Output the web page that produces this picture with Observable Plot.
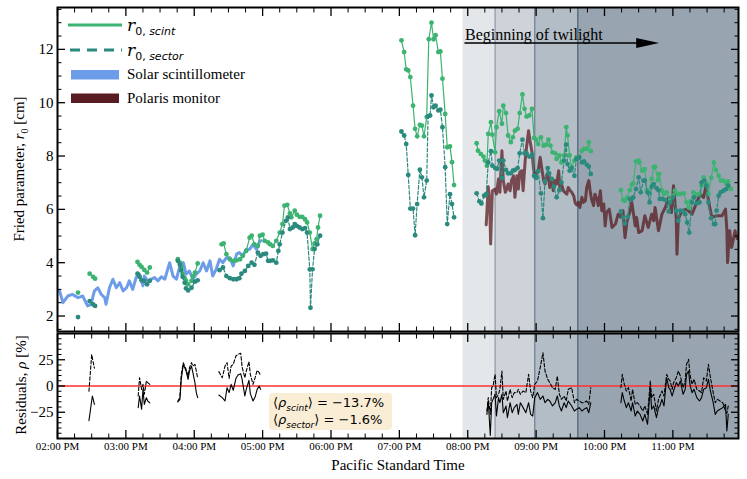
<!DOCTYPE html>
<html><head><meta charset="utf-8">
<script src="https://cdn.jsdelivr.net/npm/d3@7"></script>
<script src="https://cdn.jsdelivr.net/npm/@observablehq/plot@0.6"></script>
<style>
body{margin:0;background:#fff;}
#wrap{position:relative;width:747px;height:479px;overflow:hidden;font-family:"Liberation Serif",serif;color:#000;}
#top,#bot{position:absolute;left:0;}
#top{top:0;} #bot{top:332px;}
.ov{position:absolute;white-space:nowrap;line-height:1;}
.leg{font-size:15px;}
.math{font-family:"DejaVu Serif",serif;font-style:italic;font-size:17px;}
.sub{font-family:"DejaVu Sans",sans-serif;font-size:11px;position:relative;top:4px;font-style:normal;}
.box{font-family:"DejaVu Sans",sans-serif;font-size:13px;}
.box sub{font-size:9px;}
</style></head><body>
<div id="wrap">
  <div id="top"></div>
  <div id="bot"></div>
  <svg class="ov" style="left:0;top:0" width="140" height="110">
    <line x1="68" x2="122" y1="25" y2="25" stroke="#3cb371" stroke-width="3"/>
    <line x1="70" x2="122" y1="50" y2="50" stroke="#2b8a7e" stroke-width="3" stroke-dasharray="10,7"/>
    <rect x="71" y="70" width="48" height="9.5" fill="#6d9de9"/>
    <rect x="71" y="93.5" width="48" height="9.5" fill="#581c22"/>
  </svg>
  <div class="ov" style="left:127px;top:17px"><span class="math">r</span><span class="sub">0, <i>scint</i></span></div>
  <div class="ov" style="left:127px;top:42px"><span class="math">r</span><span class="sub">0, <i>sector</i></span></div>
  <div class="ov leg" style="left:127px;top:67px">Solar scintillometer</div>
  <div class="ov leg" style="left:127px;top:91px">Polaris monitor</div>
  <div class="ov" style="left:21px;top:169px;font-size:15px;transform:translate(-50%,-50%) rotate(-90deg)">Fried parameter, <i>r</i><sub style="font-size:10px">0</sub> [cm]</div>
  <div class="ov" style="left:21px;top:385px;font-size:15px;transform:translate(-50%,-50%) rotate(-90deg)">Residuals, <i>ρ</i> [%]</div>
  <div class="ov" style="left:398px;top:465px;font-size:15px;transform:translate(-50%,-50%)">Pacific Standard Time</div>
  <div class="ov box" style="left:269px;top:393px;width:123px;height:37px;background:rgba(245,222,179,0.55);border-radius:4px;"></div>
  <div class="ov box" style="left:273px;top:396px">⟨<i>ρ</i><sub><i>scint</i></sub>⟩ = −13.7%</div>
  <div class="ov box" style="left:273px;top:413px">⟨<i>ρ</i><sub><i>sector</i></sub>⟩ = −1.6%</div>
</div>
<script>
// ---------- data (time in decimal hours, PST) ----------
const xMajor = [14, 15, 16, 17, 18, 19, 20, 21, 22, 23];
const xTickLabels = ["02:00 PM","03:00 PM","04:00 PM","05:00 PM","06:00 PM","07:00 PM","08:00 PM","09:00 PM","10:00 PM","11:00 PM"];
const yMajorTop = [2, 4, 6, 8, 10, 12];
const yMajorBot = [-25, 0, 25];
const twilightStarts = [19.93, 20.40, 20.98, 21.61];

const solarScint = [[14.03,2.94],[14.08,2.50],[14.15,2.75],[14.22,2.81],[14.30,2.69],[14.37,2.75],[14.44,2.38],[14.49,2.44],[14.54,2.94],[14.59,3.06],[14.64,2.81],[14.69,2.69],[14.71,2.44],[14.76,3.06],[14.81,3.38],[14.86,3.06],[14.91,3.25],[14.96,2.94],[15.01,3.06],[15.05,3.32],[15.10,3.00],[15.15,3.44],[15.20,3.57],[15.25,3.13],[15.27,3.50],[15.32,3.32],[15.37,3.38],[15.42,3.44],[15.47,3.32],[15.52,3.47],[15.57,3.38],[15.64,4.00],[15.69,3.50],[15.74,3.38],[15.79,3.88],[15.84,4.00],[15.88,3.57],[15.93,3.69],[15.98,3.38],[16.03,3.57],[16.08,3.69],[16.13,4.00],[16.18,3.69],[16.23,4.07],[16.27,3.50],[16.32,3.75],[16.37,4.13],[16.42,4.00],[16.47,4.19],[16.52,4.19],[16.57,3.88],[16.62,4.32],[16.66,4.38],[16.71,4.25],[16.76,4.50],[16.81,4.50],[16.86,4.69],[16.91,4.50],[16.96,4.82],[16.98,4.82]];

const rScint = [
  [[14.30,2.88]],
  [[14.47,3.59],[14.52,3.47],[14.55,3.40]],
  [[15.17,4.03],[15.20,3.92],[15.23,3.84],[15.27,3.73],[15.31,3.63],[15.35,3.82]],
  [[15.76,4.13],[15.79,4.00],[15.81,3.84],[15.83,3.59],[15.86,3.42],[15.88,3.32],[15.91,3.19],[15.96,3.32],[15.98,3.50],[16.01,3.63],[16.05,3.97]],
  [[16.40,4.69],[16.43,4.72],[16.47,4.32],[16.52,4.13],[16.57,4.07],[16.62,4.09],[16.67,4.13],[16.71,4.26],[16.76,4.44],[16.81,4.94],[16.84,5.01],[16.88,4.69],[16.93,4.63],[16.96,5.01],[17.00,5.05],[17.03,4.82],[17.08,4.76],[17.11,4.69],[17.15,4.63],[17.20,4.82],[17.25,5.13],[17.29,5.45],[17.32,6.14],[17.36,6.17],[17.40,5.85],[17.42,5.70],[17.47,5.95],[17.50,5.80],[17.54,5.72],[17.58,5.72],[17.62,5.63],[17.65,5.51],[17.69,5.13],[17.73,4.51],[17.76,4.72],[17.79,4.88],[17.81,5.32],[17.84,5.76]],
  [[19.03,12.34],[19.07,11.90],[19.10,11.25],[19.13,11.21],[19.16,10.96],[19.20,9.89],[19.23,9.02],[19.26,8.74],[19.30,9.17],[19.33,9.14],[19.36,8.74],[19.40,9.46],[19.43,12.38],[19.47,13.00],[19.50,12.38],[19.53,12.53],[19.57,11.90],[19.60,11.92],[19.63,10.90],[19.67,9.58],[19.70,8.33],[19.74,8.36],[19.77,7.77],[19.80,6.91]],
  [[20.13,8.48],[20.15,8.20],[20.19,8.08],[20.23,7.98],[20.25,7.83],[20.28,7.64],[20.30,8.83],[20.34,9.27],[20.36,8.80],[20.40,8.14],[20.42,9.08],[20.46,9.68],[20.50,9.21],[20.52,9.89],[20.56,9.61],[20.59,8.77],[20.63,8.52],[20.66,8.70],[20.69,8.95],[20.73,9.02],[20.76,9.61],[20.80,10.31],[20.83,9.77],[20.86,9.48],[20.90,9.52],[20.94,9.77],[20.97,8.68],[21.00,8.61],[21.03,8.45],[21.07,8.70],[21.11,8.39],[21.15,8.43],[21.18,8.61],[21.21,8.39],[21.24,8.14],[21.28,8.10],[21.30,7.89],[21.34,8.02],[21.37,7.76],[21.41,8.02],[21.44,9.08],[21.46,8.77],[21.49,8.02],[21.52,7.58],[21.56,7.83],[21.59,7.95],[21.63,7.95],[21.67,8.20],[21.70,8.27],[21.74,8.27],[21.77,8.52],[21.80,8.18]],
  [[22.24,6.72],[22.27,6.35],[22.30,6.32],[22.33,6.45],[22.37,6.72],[22.40,6.92],[22.42,6.97],[22.46,7.80],[22.50,7.83],[22.51,7.76],[22.55,7.45],[22.57,7.48],[22.59,7.51],[22.62,6.72],[22.66,6.58],[22.69,7.14],[22.72,7.58],[22.74,7.60],[22.78,7.10],[22.80,7.33],[22.84,6.70],[22.87,6.58],[22.91,6.64],[22.96,6.35],[23.00,6.51],[23.03,6.70],[23.07,6.58],[23.11,6.58],[23.16,6.60],[23.20,6.26],[23.23,6.07],[23.26,6.30],[23.30,6.64],[23.35,6.55],[23.39,6.58],[23.42,6.89],[23.45,7.20],[23.49,6.97],[23.52,6.58],[23.56,7.18],[23.60,7.76],[23.63,7.48],[23.67,7.26],[23.70,7.08],[23.74,7.08],[23.78,6.97],[23.81,7.05],[23.85,6.76]]
];

const rSector = [
  [[14.30,1.96]],
  [[14.47,2.56],[14.52,2.44],[14.55,2.38]],
  [[15.17,3.59],[15.20,3.47],[15.23,3.34],[15.27,3.32],[15.31,3.19],[15.35,3.32]],
  [[15.76,4.07],[15.79,3.92],[15.81,3.72],[15.83,3.47],[15.86,3.25],[15.88,3.04],[15.91,2.96],[15.96,3.06],[16.01,3.29],[16.05,3.34]],
  [[16.37,3.72],[16.42,3.82],[16.47,3.50],[16.52,3.42],[16.57,3.38],[16.62,3.38],[16.66,3.42],[16.69,3.59],[16.74,3.69],[16.79,3.88],[16.84,4.00],[16.88,3.92],[16.93,4.38],[16.97,4.26],[17.01,4.32],[17.05,4.34],[17.08,4.07],[17.11,4.07],[17.15,4.09],[17.20,4.00],[17.23,4.44],[17.25,4.69],[17.29,5.13],[17.34,5.57],[17.37,5.70],[17.40,5.26],[17.44,5.32],[17.47,5.45],[17.50,5.38],[17.54,5.32],[17.58,5.26],[17.62,5.30],[17.65,5.13],[17.69,3.75],[17.70,2.31],[17.73,3.75],[17.76,4.51],[17.80,4.69],[17.84,5.01]],
  [[19.03,8.92],[19.07,8.77],[19.10,8.45],[19.13,7.29],[19.16,6.03],[19.20,6.03],[19.23,5.03],[19.26,6.20],[19.30,7.49],[19.33,7.20],[19.36,6.45],[19.40,7.08],[19.42,9.49],[19.45,9.52],[19.47,10.27],[19.50,9.83],[19.53,9.89],[19.57,9.71],[19.60,9.74],[19.63,9.08],[19.67,7.58],[19.70,5.45],[19.74,6.57],[19.77,6.20],[19.80,5.70]],
  [[20.13,6.60],[20.17,6.30],[20.20,6.22],[20.24,6.51],[20.27,6.57],[20.30,7.76],[20.34,8.18],[20.36,7.64],[20.40,7.55],[20.43,7.52],[20.46,7.83],[20.50,7.18],[20.52,7.83],[20.56,7.48],[20.59,7.35],[20.63,7.35],[20.66,7.45],[20.69,7.48],[20.73,7.55],[20.76,8.10],[20.80,8.61],[20.83,8.10],[20.86,8.10],[20.90,7.98],[20.94,8.05],[20.97,7.26],[21.00,7.18],[21.03,7.43],[21.07,6.60],[21.10,5.67],[21.13,7.05],[21.17,7.55],[21.19,7.35],[21.23,7.14],[21.26,6.85],[21.30,6.45],[21.34,6.72],[21.37,7.01],[21.41,7.83],[21.44,8.43],[21.46,7.70],[21.49,7.45],[21.52,7.55],[21.56,7.26],[21.59,7.89],[21.63,7.95],[21.67,7.76],[21.70,7.80],[21.74,7.68],[21.77,7.60],[21.80,7.33]],
  [[22.24,5.92],[22.27,5.70],[22.30,5.47],[22.34,5.72],[22.37,6.39],[22.40,6.39],[22.42,6.45],[22.46,6.76],[22.50,7.20],[22.53,6.64],[22.57,7.08],[22.59,7.08],[22.63,6.64],[22.66,6.26],[22.69,6.85],[22.72,6.95],[22.76,6.80],[22.79,6.72],[22.81,6.39],[22.85,6.39],[22.89,6.35],[22.94,5.92],[22.96,6.26],[23.00,6.45],[23.05,5.95],[23.08,5.57],[23.11,5.95],[23.15,5.92],[23.18,5.82],[23.21,5.51],[23.24,5.13],[23.28,6.26],[23.31,6.45],[23.35,6.22],[23.39,6.26],[23.42,7.01],[23.46,7.08],[23.49,6.89],[23.52,6.26],[23.56,5.67],[23.60,5.45],[23.62,5.45],[23.64,5.95],[23.67,6.51],[23.70,6.64],[23.74,6.70],[23.78,6.76],[23.81,6.89]]
];

const polaris = [[20.27,5.42],[20.30,6.85],[20.32,6.32],[20.335,4.70],[20.36,6.70],[20.40,6.76],[20.42,6.57],[20.45,7.14],[20.47,6.64],[20.50,8.20],[20.52,7.08],[20.55,6.64],[20.57,6.76],[20.59,6.95],[20.62,6.70],[20.64,7.08],[20.67,7.26],[20.69,6.45],[20.72,7.26],[20.74,6.76],[20.76,7.39],[20.79,7.45],[20.81,6.70],[20.84,7.83],[20.86,8.33],[20.89,8.95],[20.91,8.58],[20.94,8.14],[20.96,7.58],[20.98,7.20],[21.01,7.35],[21.03,7.45],[21.06,7.95],[21.08,7.58],[21.11,7.08],[21.13,6.95],[21.16,7.33],[21.18,7.20],[21.20,6.82],[21.23,7.14],[21.25,6.70],[21.28,7.08],[21.30,6.95],[21.33,7.45],[21.35,6.70],[21.37,6.95],[21.40,6.70],[21.42,6.64],[21.45,6.57],[21.47,6.82],[21.50,6.70],[21.52,6.64],[21.55,6.51],[21.57,6.26],[21.59,6.17],[21.62,6.26],[21.64,6.07],[21.67,6.45],[21.69,6.26],[21.72,6.32],[21.74,6.82],[21.77,7.08],[21.79,6.70],[21.81,6.39],[21.84,6.14],[21.86,6.57],[21.89,6.39],[21.91,6.14],[21.94,6.70],[21.96,5.95],[21.99,6.20],[22.01,5.38],[22.03,5.88],[22.07,6.01],[22.11,5.32],[22.16,5.45],[22.20,5.82],[22.24,5.70],[22.27,5.95],[22.30,4.94],[22.33,5.57],[22.37,5.90],[22.40,6.26],[22.45,5.38],[22.47,5.70],[22.50,5.13],[22.55,5.20],[22.59,5.76],[22.64,5.32],[22.69,5.82],[22.72,5.57],[22.74,6.07],[22.79,5.20],[22.84,5.82],[22.89,6.07],[22.94,6.45],[22.98,5.88],[23.01,6.89],[23.05,5.63],[23.06,4.32],[23.08,5.63],[23.13,5.95],[23.20,6.01],[23.28,5.82],[23.35,6.26],[23.40,6.58],[23.45,6.45],[23.49,6.95],[23.52,6.32],[23.57,5.70],[23.64,5.76],[23.72,5.76],[23.77,6.01],[23.79,5.20],[23.80,4.00],[23.83,5.20],[23.86,4.57],[23.91,5.20],[23.94,4.90]];

const resScint = [
  [[14.46,-33],[14.51,-9.5],[14.54,-17.5]],
  [[15.18,-20.6],[15.20,-9.5],[15.23,-22.2],[15.25,-3.2],[15.27,-17.5],[15.30,-11.1],[15.32,-14.3],[15.35,-16]],
  [[15.76,-15.2],[15.79,-12.7],[15.81,6.3],[15.84,20.6],[15.86,17.5],[15.88,14.3],[15.91,6.3],[15.93,14.3],[15.96,19.0],[15.98,12.7],[16.01,3.2],[16.03,-6.3],[16.05,-11.1]],
  [[16.36,-8.6],[16.41,-11.1],[16.45,-14.3],[16.48,-1.6],[16.51,-6.3],[16.54,1.6],[16.57,-4.1],[16.61,7.3],[16.64,10.5],[16.68,11.7],[16.70,6.3],[16.74,-9.5],[16.76,-3.2],[16.80,5.4],[16.82,-7.3],[16.86,-14.3],[16.89,-10.5],[16.92,-3.2],[16.95,0],[16.97,-3.2]],
  [[20.28,-27.0],[20.30,-14.3],[20.33,-47],[20.35,-15.9],[20.37,-12.7],[20.40,-7.9],[20.42,-28.6],[20.45,-11.1],[20.47,-15.9],[20.50,-7.9],[20.52,-25.4],[20.56,-19.0],[20.58,-30.2],[20.62,-15.9],[20.65,-25.4],[20.68,-20.6],[20.72,-17.5],[20.74,-27.0],[20.77,-15.9],[20.81,-20.6],[20.85,-25.4],[20.89,-15.9],[20.92,-27.0],[20.95,-28.6],[20.98,-11.1],[21.02,-6.3],[21.06,-12.7],[21.10,-9.5],[21.13,-15.9],[21.17,-12.7],[21.20,-14.3],[21.24,-19.0],[21.28,-15.9],[21.31,-9.5],[21.34,-19.0],[21.37,-23.8],[21.41,-15.9],[21.44,-20.6],[21.47,-14.3],[21.52,-19.0],[21.56,-23.8],[21.59,-22.2],[21.63,-20.6],[21.67,-23.8],[21.70,-22.2],[21.74,-20.6],[21.77,-25.4],[21.80,-15.9]],
  [[22.24,-15.9],[22.26,-6.3],[22.29,-14.3],[22.32,-20.6],[22.35,-15.9],[22.39,-23.8],[22.41,-15.9],[22.45,-28.6],[22.48,-23.8],[22.52,-27.0],[22.56,-33.3],[22.59,-27.0],[22.63,-36.5],[22.67,-1.6],[22.69,-22.2],[22.72,-19.0],[22.76,-30.2],[22.79,-20.6],[22.81,-19.0],[22.84,-12.7],[22.87,-19.0],[22.91,7.9],[22.94,-1.6],[22.96,-3.2],[22.99,-9.5],[23.01,-4.8],[23.05,3.2],[23.08,0],[23.11,4.8],[23.15,-7.9],[23.18,-3.2],[23.20,11.1],[23.23,14.3],[23.25,1.6],[23.28,-6.3],[23.31,-3.2],[23.35,-11.1],[23.39,-14.3],[23.42,-11.1],[23.45,-3.2],[23.49,-1.6],[23.52,6.3],[23.55,-4.8],[23.59,-15.9],[23.62,-27.0],[23.65,-23.8],[23.69,-22.2],[23.73,-20.6],[23.77,-17.5],[23.79,-42.9],[23.81,-27.0]]
];

const resSector = [
  [[14.46,-5],[14.50,30],[14.53,20],[14.54,17]],
  [[15.18,-9.5],[15.20,7.9],[15.23,-3.2],[15.25,1.6],[15.27,-7.9],[15.30,4.8],[15.32,3.2],[15.35,1.6]],
  [[15.76,-14.3],[15.79,-11.1],[15.81,11.1],[15.84,22.2],[15.86,19.0],[15.88,15.9],[15.91,9.5],[15.93,17.5],[15.96,22.2],[15.98,19.0],[16.01,20.6],[16.03,14.3],[16.05,7.3]],
  [[16.36,13.7],[16.41,7.9],[16.45,19.0],[16.48,22.2],[16.51,7.3],[16.54,19.0],[16.57,20.6],[16.61,28.6],[16.64,30.2],[16.68,31.1],[16.70,18],[16.74,7.9],[16.76,14],[16.80,23.2],[16.82,11.1],[16.86,1.6],[16.89,7.9],[16.92,14.9],[16.95,12.7],[16.97,10]],
  [[20.28,-23.8],[20.30,-11.1],[20.33,-27.0],[20.35,-1.6],[20.37,0],[20.40,11.1],[20.42,-11.1],[20.45,-7.9],[20.47,-3.2],[20.50,14.3],[20.52,-12.7],[20.56,-4.8],[20.58,-14.3],[20.62,-3.2],[20.65,-11.1],[20.68,-6.3],[20.72,-6.3],[20.74,-3.2],[20.77,-7.9],[20.81,-4.8],[20.85,-6.3],[20.89,11.1],[20.92,-4.8],[20.95,-11.1],[20.98,1.6],[21.02,4.8],[21.06,17.5],[21.10,31.7],[21.13,14.3],[21.17,6.3],[21.20,3.2],[21.24,-1.6],[21.28,-3.2],[21.31,9.5],[21.34,-7.9],[21.37,-12.7],[21.41,-9.5],[21.44,-14.3],[21.47,-3.2],[21.52,-1.6],[21.56,-15.9],[21.59,-12.7],[21.63,-14.3],[21.67,-15.9],[21.70,-15.9],[21.74,-14.3],[21.77,-17.5],[21.80,-1.6]],
  [[22.24,-1.6],[22.26,11.1],[22.29,1.6],[22.32,-4.8],[22.35,-1.6],[22.39,-14.3],[22.41,-3.2],[22.45,-17.5],[22.48,-15.9],[22.52,-19.0],[22.56,-23.8],[22.59,-19.0],[22.63,-27.0],[22.67,4.8],[22.69,-11.1],[22.72,-7.9],[22.76,-23.8],[22.79,-12.7],[22.81,-9.5],[22.84,-4.8],[22.87,-9.5],[22.91,11.1],[22.94,6.3],[22.96,4.8],[22.99,-3.2],[23.01,3.2],[23.05,7.9],[23.08,14.3],[23.11,9.5],[23.15,-1.6],[23.18,4.8],[23.20,20.6],[23.23,25.4],[23.25,11.1],[23.28,1.6],[23.31,6.3],[23.35,-3.2],[23.39,-4.8],[23.42,-6.3],[23.45,7.9],[23.49,4.8],[23.52,20.6],[23.55,7.9],[23.59,-6.3],[23.62,-15.9],[23.65,-12.7],[23.69,-14.3],[23.73,-15.9],[23.77,-23.8],[23.79,-26],[23.81,-19.0]]
];

// ---------- helpers ----------
const X0 = 14, X1 = 23.96;
const GREEN = "#3cb371", TEAL = "#2b8a7e", BLUE = "#6d9de9", MAROON = "#581c22";
const flat = segs => segs.flatMap((s, i) => s.map(([t, v]) => ({t, v, seg: i})));
const pts = arr => arr.map(([t, v]) => ({t, v}));
const xMinor = d3.range(X0, X1, 0.25).filter(d => d % 1 !== 0);
const shadeFills = ["#e4e7ea", "#cdd3d9", "#b3bdc6", "#98a5b1"];
const edgeColors = ["#8e9aa6", "#6b7e90", "#4a6078"];

function shading() {
  const marks = twilightStarts.map((s, i) =>
    Plot.rect([{x1: s, x2: i < twilightStarts.length - 1 ? twilightStarts[i + 1] : X1}], {x1: "x1", x2: "x2", fill: shadeFills[i]}));
  twilightStarts.slice(1).forEach((s, i) => marks.push(Plot.ruleX([s], {stroke: edgeColors[i], strokeWidth: 1.2})));
  return marks;
}
function frameTicks(yMajor, yMinor, withXLabels) {
  const none = () => "";
  return [
    Plot.axisY(yMajor, {anchor: "left", tickSize: -8, tickPadding: 12, label: null, strokeWidth: 1.3}),
    Plot.axisY(yMinor, {anchor: "left", tickSize: -4.5, tickFormat: none, label: null}),
    Plot.axisY(yMajor, {anchor: "right", tickSize: -8, tickFormat: none, label: null, strokeWidth: 1.3}),
    Plot.axisY(yMinor, {anchor: "right", tickSize: -4.5, tickFormat: none, label: null}),
    Plot.axisX(xMajor, {anchor: "top", tickSize: -8, tickFormat: none, label: null, strokeWidth: 1.3}),
    Plot.axisX(xMinor, {anchor: "top", tickSize: -4.5, tickFormat: none, label: null}),
    Plot.axisX(xMajor, {anchor: "bottom", tickSize: -8, tickPadding: 12, label: null, strokeWidth: 1.3, fontSize: 11,
      tickFormat: withXLabels ? (d => xTickLabels[xMajor.indexOf(d)]) : none}),
    Plot.axisX(xMinor, {anchor: "bottom", tickSize: -4.5, tickFormat: none, label: null}),
    Plot.frame({stroke: "black", strokeWidth: 2})
  ];
}

const arrowHead = {draw(ctx) { ctx.moveTo(0, 0); ctx.lineTo(-23, -5); ctx.lineTo(-23, 5); ctx.closePath(); }};
const annot = [{t: 19.96, v: 12.3, label: "Beginning of twilight"}];
const arrowShaft = [{t: 19.96, v: 12.24}, {t: 22.55, v: 12.24}];
const arrowTip = [{t: 22.80, v: 12.24}];

const yMinorTop = d3.range(1.5, 13.6, 0.5).filter(d => d % 2 !== 0);
const topPlot = Plot.plot({
  width: 747, height: 332, marginLeft: 57, marginRight: 9, marginTop: 7, marginBottom: 1,
  x: {domain: [X0, X1]}, y: {domain: [1.42, 13.57]},
  style: {fontFamily: "Liberation Serif", fontSize: "15px", background: "transparent", overflow: "visible", color: "black"},
  marks: [
    ...shading(),
    Plot.line(pts(solarScint), {x: "t", y: "v", stroke: BLUE, strokeWidth: 3}),
    Plot.line(pts(polaris), {x: "t", y: "v", stroke: MAROON, strokeWidth: 3, strokeOpacity: 0.75}),
    Plot.line(flat(rScint), {x: "t", y: "v", z: "seg", stroke: GREEN, strokeWidth: 1.2}),
    Plot.dot(flat(rScint), {x: "t", y: "v", r: 2.4, fill: GREEN}),
    Plot.line(flat(rSector), {x: "t", y: "v", z: "seg", stroke: TEAL, strokeWidth: 1.2, strokeDasharray: "3.5,2"}),
    Plot.dot(flat(rSector), {x: "t", y: "v", r: 2.4, fill: TEAL}),
    Plot.text(annot, {x: "t", y: "v", text: "label", textAnchor: "start", lineAnchor: "bottom", fontSize: 16, fill: "black", dy: -1}),
    Plot.line(arrowShaft, {x: "t", y: "v", stroke: "black", strokeWidth: 1.5}),
    Plot.dot(arrowTip, {x: "t", y: "v", symbol: arrowHead, fill: "black", stroke: "none"}),
    ...frameTicks(yMajorTop, yMinorTop, false)
  ]
});
document.getElementById("top").append(topPlot);

const yMinorBot = d3.range(-45, 50, 5).filter(d => d % 25 !== 0);
const botPlot = Plot.plot({
  width: 747, height: 147, marginLeft: 57, marginRight: 9, marginTop: 1, marginBottom: 41,
  x: {domain: [X0, X1]}, y: {domain: [-50, 50]},
  style: {fontFamily: "Liberation Serif", fontSize: "15px", background: "transparent", overflow: "visible", color: "black"},
  marks: [
    ...shading(),
    Plot.ruleY([0], {stroke: "#ff3030", strokeWidth: 1.5}),
    Plot.line(flat(resScint), {x: "t", y: "v", z: "seg", stroke: "black", strokeWidth: 1.1}),
    Plot.line(flat(resSector), {x: "t", y: "v", z: "seg", stroke: "black", strokeWidth: 1.1, strokeDasharray: "3.5,2"}),
    ...frameTicks(yMajorBot, yMinorBot, true)
  ]
});
document.getElementById("bot").append(botPlot);
</script>
</body></html>
